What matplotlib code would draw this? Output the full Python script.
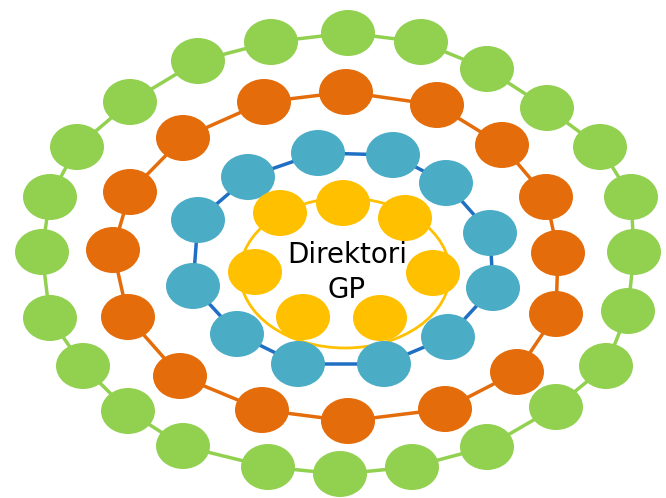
import matplotlib
matplotlib.use("Agg")
import matplotlib.pyplot as plt
from matplotlib.patches import Ellipse

# Ring node centres (pixel coordinates)
green_x = [198, 271, 348, 421, 487, 547, 600, 631, 634, 628, 606, 556, 487, 412, 340, 268, 183, 128, 83, 50, 42, 50, 77, 130]
green_y = [61, 42, 33, 42, 69, 108, 147, 197, 252, 311, 366, 407, 447, 467, 474, 467, 446, 411, 366, 318, 252, 197, 147, 102]

orange_x = [183, 264, 346, 437, 502, 546, 558, 556, 517, 445, 348, 262, 180, 128, 113, 130]
orange_y = [138, 102, 92, 105, 145, 197, 253, 314, 372, 409, 421, 410, 376, 317, 250, 192]

blue_x = [248, 318, 393, 446, 490, 493, 448, 384, 298, 237, 193, 198]
blue_y = [177, 153, 155, 183, 233, 288, 337, 364, 364, 334, 286, 220]

yellow_x = [280, 343, 405, 433, 380, 303, 255]
yellow_y = [213, 203, 218, 273, 318, 317, 272]

label_lines = ["Direktori", "GP"]

W, H = 666, 498
fig = plt.figure(figsize=(W / 100, H / 100), dpi=100)
ax = fig.add_axes([0, 0, 1, 1])
ax.set_xlim(0, W)
ax.set_ylim(H, 0)
ax.axis("off")

node_w, node_h = 54, 46

def ring(xs, ys, fill, line, lw=2.5):
    ax.plot(list(xs) + [xs[0]], list(ys) + [ys[0]], color=line, lw=lw, zorder=1,
            solid_capstyle="butt")
    for x, y in zip(xs, ys):
        ax.add_patch(Ellipse((x, y), node_w, node_h, facecolor=fill, edgecolor="none", zorder=2))

ring(green_x, green_y, "#92D050", "#92D050")
ring(orange_x, orange_y, "#E46C0A", "#E46C0A")
ring(blue_x, blue_y, "#4BACC6", "#1F6FC4")

# yellow inner ring: outline ellipse + nodes
ax.add_patch(Ellipse((345, 273), 210, 150, facecolor="none", edgecolor="#FFC000", lw=2, zorder=1))
for x, y in zip(yellow_x, yellow_y):
    ax.add_patch(Ellipse((x, y), node_w, node_h, facecolor="#FFC000", edgecolor="none", zorder=2))

for txt, ty in zip(label_lines, [255, 290]):
    ax.text(347, ty, txt, ha="center", va="center", fontsize=20,
            family="DejaVu Sans", color="black", zorder=3)

fig.savefig("out.png", dpi=100)
